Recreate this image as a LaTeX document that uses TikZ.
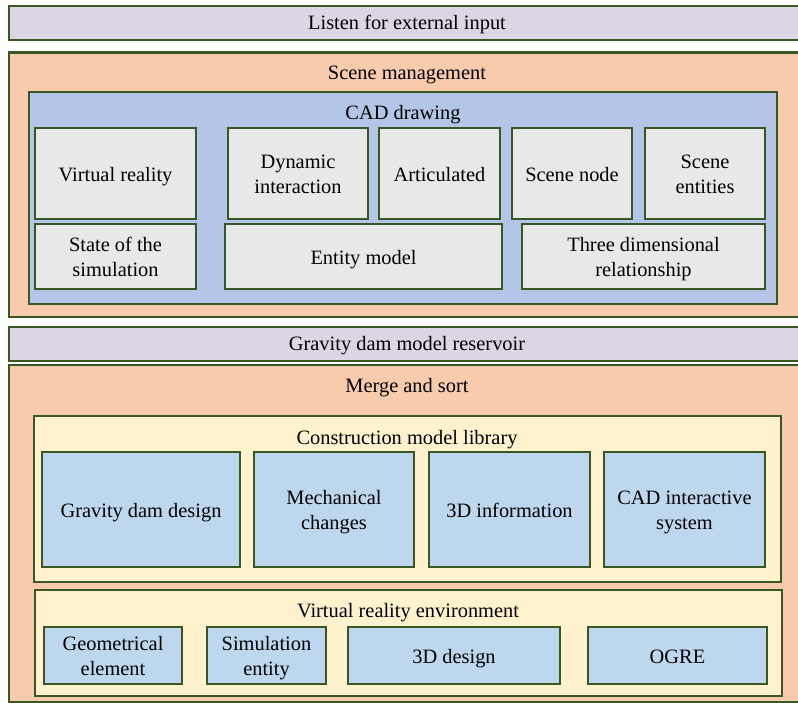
\documentclass[tikz,border=0pt]{standalone}
\usepackage{fontspec}
\setmainfont{Liberation Serif}
\usepackage{tikz}
\usetikzlibrary{positioning}
\definecolor{edge}{RGB}{56,87,35}
\definecolor{barfill}{RGB}{220,214,228}
\definecolor{orangefill}{RGB}{248,203,173}
\definecolor{cadfill}{RGB}{180,198,231}
\definecolor{grayfill}{RGB}{232,232,232}
\definecolor{yellowfill}{RGB}{255,242,204}
\definecolor{bluefill}{RGB}{189,215,238}
\newcommand\toph{19pt}
\newcommand\both{4.6pt}
\newcommand\uptop{\rule{0pt}{\toph}}
\newcommand\downbot{\rule[-\both]{0pt}{\both}}
\tikzset{
 top strut/.code = {\def\toph{#1}},
 bottom strut/.code = {\def\both{#1}},
 frame/.style
  = {rectangle, draw=edge, line width=2.2pt, inner sep=0pt, align=center,
     font=\fontsize{20.4}{25}\selectfont},
 box/.style
  = {frame, top strut=20.4pt, execute at begin node=\uptop, execute at end node=\downbot},
 pair/.style
  = {top strut=44pt},
 bar/.style
  = {box, fill=barfill, top strut=18pt, bottom strut=4.5pt},
 outer/.style
  = {frame, fill=orangefill},
 cad/.style
  = {frame, fill=cadfill},
 item/.style
  = {box, fill=grayfill},
 lib/.style
  = {frame, fill=yellowfill},
 part/.style
  = {box, fill=bluefill},
 title/.style
  = {inner sep=0pt, font=\fontsize{20.4}{25}\selectfont},
}

\begin{document}
\begin{tikzpicture}[x=1pt, y=-1pt]

\useasboundingbox (0,0) rectangle (798,703);

% Input bar
\node[bar, minimum width=796pt, minimum height=34pt] (listen) at (407,23) {Listen for external input};

% Scene management
\node[outer, minimum width=796pt, minimum height=264.5pt] (scene) at (407,184.75) {};
\node[title] (sceneT) at (407,75) {Scene management};

% CAD drawing
\node[cad, minimum width=748pt, minimum height=212pt] (cad) at (403,198) {};
\node[title] (cadT) at (403,115) {CAD drawing};

\node[item, minimum width=161pt, minimum height=91pt] (vr) at (115.5,173.5) {Virtual reality};
\node[item, pair, minimum width=140pt, minimum height=91pt] (dyn) at (298,173.5) {Dynamic\\interaction};
\node[item, minimum width=121pt, minimum height=91pt] (art) at (439.5,173.5) {Articulated};
\node[item, minimum width=120pt, minimum height=91pt] (node) at (572,173.5) {Scene node};
\node[item, pair, minimum width=120pt, minimum height=91pt] (ent) at (705,173.5) {Scene\\entities};

\node[item, pair, minimum width=161pt, minimum height=65pt] (state) at (115.5,256.5) {State of the\\simulation};
\node[item, minimum width=277pt, minimum height=65pt] (model) at (363.5,256.5) {Entity model};
\node[item, pair, minimum width=243pt, minimum height=65pt] (rel) at (643.5,256.5) {Three dimensional\\relationship};

% Reservoir bar
\node[bar, minimum width=796pt, minimum height=34pt] (dam) at (407,344) {Gravity dam model reservoir};

% Merge and sort
\node[outer, minimum width=796pt, minimum height=337pt] (merge) at (407,533.5) {};
\node[title] (mergeT) at (407,388) {Merge and sort};

% Construction model library
\node[lib, minimum width=747pt, minimum height=166pt] (conlib) at (407.5,499) {};
\node[title] (conlibT) at (407,440) {Construction model library};

\node[part, minimum width=198pt, minimum height=115pt] (design) at (141,509.5) {Gravity dam design};
\node[part, pair, minimum width=160pt, minimum height=115pt] (mech) at (334,509.5) {Mechanical\\changes};
\node[part, minimum width=161pt, minimum height=115pt] (info) at (509.5,509.5) {3D information};
\node[part, pair, minimum width=161pt, minimum height=115pt] (inter) at (684.5,509.5) {CAD interactive\\system};

% Virtual reality environment
\node[lib, minimum width=747pt, minimum height=106pt] (vrenv) at (408.5,643) {};
\node[title] (vrenvT) at (408,613) {Virtual reality environment};

\node[part, pair, minimum width=138pt, minimum height=57pt] (geo) at (113,655.5) {Geometrical\\element};
\node[part, pair, minimum width=119pt, minimum height=57pt] (sim) at (266.5,655.5) {Simulation\\entity};
\node[part, minimum width=212pt, minimum height=57pt] (three) at (454,655.5) {3D design};
\node[part, minimum width=179pt, minimum height=57pt] (ogre) at (677.5,655.5) {OGRE};

\end{tikzpicture}
\end{document}
